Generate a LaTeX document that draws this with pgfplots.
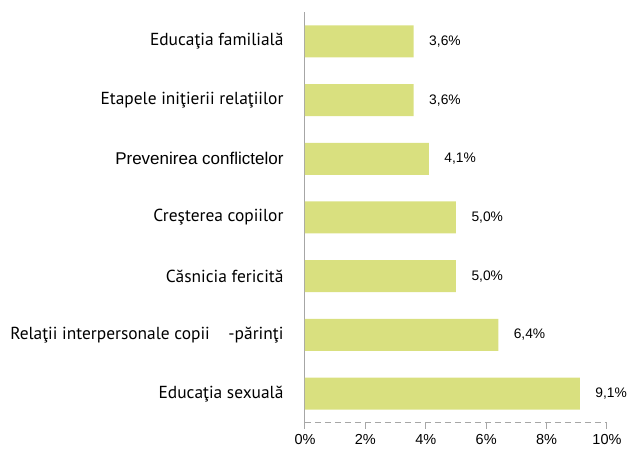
\documentclass[border=0pt]{standalone}
\usepackage{fontspec}
\setmainfont{PT Sans}
\newfontfamily\arial{Liberation Sans}
\usepackage{pgfplots}
\pgfplotsset{compat=1.18}
\definecolor{barc}{HTML}{D9E07F}
\definecolor{axc}{HTML}{A6A6A6}
\begin{document}
\begin{tikzpicture}
\begin{axis}[
  name=ax,
  scale only axis,
  width=302pt, height=411pt,
  xbar, bar width=32pt,
  xmin=0, xmax=10, ymin=-0.5, ymax=6.5,
  xtick={0,2,4,6,8,10},
  xticklabels={0\%,2\%,4\%,6\%,8\%,10\%},
  xticklabel style={font=\arial\fontsize{14.5}{15}\selectfont, yshift=-2pt},
  ytick={0,1,2,3,4,5,6},
  yticklabels={Educaţia sexuală,{Relaţii interpersonale copii\ \ \ \ -părinţi},Căsnicia fericită,Creşterea copiilor,{\arial\fontsize{17}{18}\selectfont Prevenirea conflictelor},Etapele iniţierii relaţiilor,Educaţia familială},
  yticklabel style={font=\fontsize{17.4}{18}\selectfont, xshift=-12pt},
  axis x line*=bottom, axis y line*=left,
  x axis line style={draw=axc, dashed, dash pattern=on 6pt off 4pt, line width=1pt, -},
  y axis line style={draw=axc, line width=1pt, -},
  xtick style={draw=axc, line width=1pt},
  ytick style={draw=none},
  tick align=outside, major tick length=6pt,
  enlargelimits=false, clip=false,
  point meta=explicit symbolic,
  nodes near coords,
  nodes near coords style={font=\arial\fontsize{13.8}{14}\selectfont, anchor=west, xshift=12pt, text=black},
]
\addplot[fill=barc, draw=none] coordinates {
  (9.1,0) [{9,1\%}]
  (6.4,1) [{6,4\%}]
  (5.0,2) [{5,0\%}]
  (5.0,3) [{5,0\%}]
  (4.1,4) [{4,1\%}]
  (3.6,5) [{3,6\%}]
  (3.6,6) [{3,6\%}]
};
\coordinate (o) at (rel axis cs:0,0);
\end{axis}
\pgfresetboundingbox
\path ([shift={(-305pt,-27pt)}]o) rectangle ([shift={(325pt,423pt)}]o);
\end{tikzpicture}
\end{document}
